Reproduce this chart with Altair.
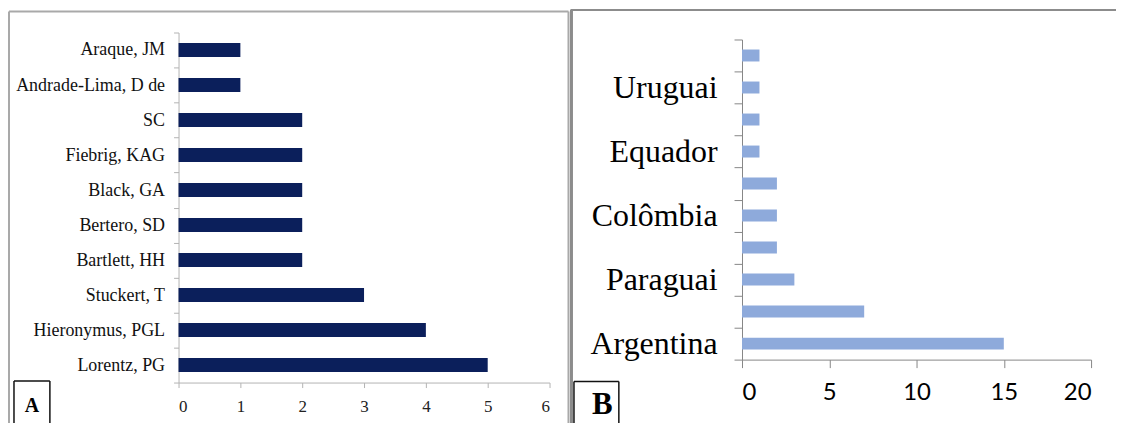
import json
import altair as alt
import pandas as pd

# ---------------- data ----------------
collectors = ["Lorentz, PG", "Hieronymus, PGL", "Stuckert, T", "Bartlett, HH",
              "Bertero, SD", "Black, GA", "Fiebrig, KAG", "SC",
              "Andrade-Lima, D de", "Araque, JM"]
collector_counts = [5, 4, 3, 2, 2, 2, 2, 2, 1, 1]

countries = ["Argentina", "Brasil", "Paraguai", "Bolívia", "Colômbia",
             "Peru", "Equador", "Chile", "Uruguai", "Venezuela"]
country_counts = [15, 7, 3, 2, 2, 2, 1, 1, 1, 1]
shown_countries = ["Argentina", "Paraguai", "Colômbia", "Equador", "Uruguai"]

x_ticks_a = [0, 1, 2, 3, 4, 5, 6]
x_ticks_b = [0, 5, 10, 15, 20]
panel_letters = ["A", "B"]

dfa = pd.DataFrame({"collector": collectors, "n": collector_counts})
dfb = pd.DataFrame({"country": countries, "n": country_counts})
one = pd.DataFrame({"k": [0]})

SERIF = "Liberation Serif"
A_W, A_H = 372, 344
B_W, B_H = 350, 321


def seg(x1, y1, x2, y2, color, width):
    return alt.Chart(one).mark_rule(color=color, strokeWidth=width).encode(
        x=alt.value(x1), x2=alt.value(x2), y=alt.value(y1), y2=alt.value(y2))


def letter(txt, x, y, size):
    return alt.Chart(one).mark_text(
        text=txt, font=SERIF, fontWeight="bold", fontSize=size,
        align="center", baseline="alphabetic", color="black"
    ).encode(x=alt.value(x), y=alt.value(y))


# ---------------- panel A ----------------
GA = "#b3b3b3"
bars_a = alt.Chart(dfa).mark_bar(color="#0b1f5b", size=14).encode(
    x=alt.X("n:Q", scale=alt.Scale(domain=[0, 6], nice=False),
            axis=alt.Axis(values=x_ticks_a, title=None, grid=False, format="d",
                          domainColor=GA, tickColor=GA, tickSize=5,
                          labelFont=SERIF, labelFontSize=17, labelColor="#222222",
                          labelPadding=11)),
    y=alt.Y("collector:N", sort=collectors[::-1],
            scale=alt.Scale(paddingInner=0, paddingOuter=0, range=[-7, A_H]),
            axis=alt.Axis(title=None, tickBand="extent", domainColor=GA,
                          tickColor=GA, tickSize=5, labelFont=SERIF,
                          labelFontSize=18, labelColor="#111111", labelPadding=9)),
)

BOT_A = 392
panel_a = alt.layer(
    bars_a,
    seg(-170, -28, 391, -28, "#a9a9a9", 2),
    seg(-170, -28, -170, BOT_A, "#a9a9a9", 2),
    seg(391, -28, 391, BOT_A, "#a9a9a9", 2),
    seg(-165, 342.5, -129, 342.5, "#111111", 1.5),
    seg(-165, 342.5, -165, BOT_A, "#111111", 1.5),
    seg(-129, 342.5, -129, BOT_A, "#111111", 1.5),
    letter(panel_letters[0], -147, 374, 20),
).properties(width=A_W, height=A_H)

# ---------------- panel B ----------------
GB = "#878787"
label_expr = ("indexof(" + json.dumps(shown_countries, ensure_ascii=False)
              + ", datum.label) >= 0 ? datum.label : ''")
bars_b = alt.Chart(dfb).mark_bar(color="#8eaadb", size=12).encode(
    x=alt.X("n:Q", scale=alt.Scale(domain=[0, 20], nice=False),
            axis=alt.Axis(values=x_ticks_b, title=None, grid=False, format="d",
                          domainColor=GB, tickColor=GB, tickSize=8,
                          labelFont="Lato", labelFontSize=24, labelColor="#000000",
                          labelPadding=13)),
    y=alt.Y("country:N", sort=countries[::-1],
            scale=alt.Scale(paddingInner=0, paddingOuter=0),
            axis=alt.Axis(title=None, tickBand="extent", domainColor=GB,
                          tickColor=GB, tickSize=8, labelFont=SERIF,
                          labelFontSize=32, labelColor="#000000", labelPadding=17,
                          labelExpr=label_expr)),
)

BOT_B = 392
panel_b = alt.layer(
    bars_b,
    seg(-172, -29.5, 375, -29.5, "#8c8c8c", 2),
    seg(-171, -29.5, -171, BOT_B, "#8c8c8c", 3),
    seg(-168.5, 343, -123.5, 343, "#111111", 1.5),
    seg(-168.5, 343, -168.5, BOT_B, "#111111", 1.5),
    seg(-123.5, 343, -123.5, BOT_B, "#111111", 1.5),
    letter(panel_letters[1], -140, 376, 31),
).properties(width=B_W, height=B_H)

chart = alt.hconcat(panel_a, panel_b, spacing=0).properties(
    padding=0
).configure_view(stroke=None).configure_axis(domainWidth=1)

chart.save("out.html", embed_options={"renderer": "svg", "actions": False})
